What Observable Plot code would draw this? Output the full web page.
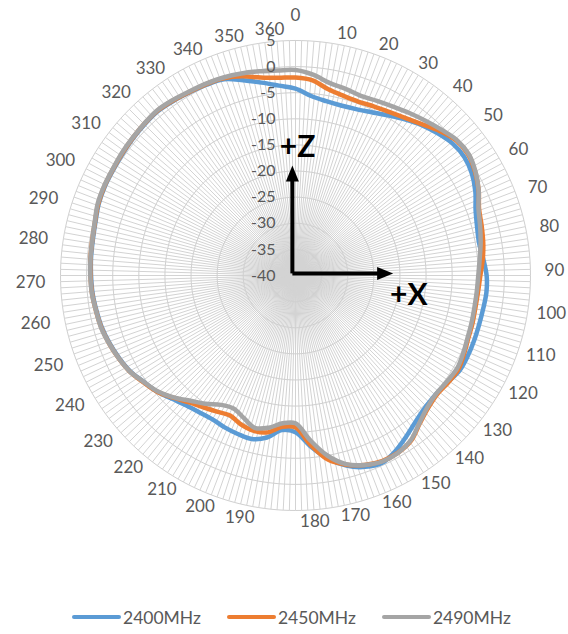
<!DOCTYPE html>
<html>
<head>
<meta charset="utf-8">
<script src="https://cdn.jsdelivr.net/npm/d3@7"></script>
<script src="https://cdn.jsdelivr.net/npm/@observablehq/plot@0.6"></script>
<style>
  html, body { margin: 0; padding: 0; background: #fff; }
  body { width: 568px; font-family: Lato, "Open Sans", sans-serif; }
  #chart svg { display: block; }
  #legend { height: 34px; display: flex; align-items: center; padding-left: 72px; box-sizing: border-box; }
  #legend .item { display: flex; align-items: center; margin-right: 26px; }
  #legend .swatch { width: 49px; height: 4px; border-radius: 2px; margin-right: 2px; }
  #legend .label { font-size: 17.5px; color: #595959; }
</style>
</head>
<body>
<div id="chart"></div>
<div id="legend"></div>
<script>
// Azimuth of each measurement (degrees), one sample every 5°
const azimuth = d3.range(0, 360, 5);

// Radiated gain (dB) per azimuth for each frequency
const gain2400 = [
  -4.2, -5.5, -6.1, -6.3, -6.1, -5.5, -4.6, -3.5, -2.4, -1.5, -0.7, -0.5,
  -1.0, -2.0, -3.3, -4.0, -4.3, -3.9, -3.4, -3.3, -3.5, -3.6, -3.6, -3.6,
  -3.7, -4.4, -4.8, -4.6, -3.9, -2.7, -1.4, -0.5, -1.0, -2.3, -4.4, -7.2,
  -10.0, -10.3, -8.5, -7.6, -7.7, -7.9, -8.2, -8.0, -7.5, -6.6, -5.4, -4.5,
  -3.4, -2.7, -2.1, -1.6, -1.3, -1.0, -0.85, -0.7, -0.6, -0.35, 0.1, 0.3,
  0.35, 0.5, 0.7, 0.9, 1.05, 0.8, 0.5, 0.3, 0.0, -1.3, -2.5, -3.5
];
const gain2450 = [
  -2.1, -2.5, -3.8, -4.4, -4.6, -4.3, -3.9, -3.2, -2.2, -0.9, 0.2, 0.4,
  -0.3, -1.3, -2.6, -3.1, -3.5, -4.0, -4.6, -4.9, -5.0, -4.9, -4.8, -4.4,
  -4.0, -4.3, -4.6, -4.1, -3.0, -1.4, -0.8, -0.8, -1.4, -2.5, -4.2, -7.5,
  -10.9, -10.9, -9.5, -9.2, -9.6, -10.4, -9.9, -9.2, -8.3, -6.9, -5.4, -4.4,
  -3.3, -2.6, -2.0, -1.5, -1.2, -0.9, -0.75, -0.6, -0.5, -0.25, 0.2, 0.4,
  0.45, 0.6, 0.8, 1.0, 1.15, 0.9, 0.6, 0.45, 0.2, -0.5, -1.5, -2.0
];
const gain2490 = [
  -0.65, -1.4, -2.55, -3.0, -3.4, -3.1, -2.65, -2.0, -1.3, -0.5, 0.35, 0.5,
  -0.2, -1.3, -2.7, -3.4, -4.0, -4.6, -5.0, -5.15, -5.2, -5.1, -4.95, -4.6,
  -4.3, -4.6, -4.8, -4.3, -3.1, -1.5, -0.75, -0.7, -1.4, -2.6, -5.0, -8.4,
  -11.7, -11.6, -10.4, -9.8, -11.0, -11.9, -11.4, -10.0, -8.7, -7.0, -5.5, -4.5,
  -3.3, -2.6, -2.0, -1.45, -1.2, -0.85, -0.7, -0.6, -0.5, -0.2, 0.3, 0.45,
  0.5, 0.7, 0.85, 1.05, 1.25, 1.0, 0.7, 0.55, 0.35, 0.05, -0.3, -0.6
];

const seriesNames = ["2400MHz", "2450MHz", "2490MHz"];
const seriesColors = ["#5b9bd5", "#ed7d31", "#a5a5a5"];

// Radial (gain) axis ticks and angular category labels
const ringTicks = [5, 0, -5, -10, -15, -20, -25, -30, -35, -40];
const angleTicks = d3.range(0, 361, 10);
// where each angular label sits around the rim (degrees clockwise from top)
const angleTickAt = [
  0, 12, 22, 32, 41.5, 51, 60.5, 70, 79, 89, 98.5, 108, 117.5, 127.5, 136.5,
  146, 156, 166, 175.5, 193, 202.5, 212, 221, 230, 240, 250, 259.5, 268.5,
  278, 287, 296, 306, 315.5, 325, 334.5, 344.5, 354
];

// ---- geometry: gain in dB mapped to distance from the centre (-40 dB at the centre)
const floorDb = -40, ceilDb = 5;
const rOf = v => v - floorDb;
const outer = rOf(ceilDb);
const polar = (deg, r) => ({
  x: r * Math.sin(deg * Math.PI / 180),
  y: r * Math.cos(deg * Math.PI / 180)
});

const W = 568, H = 600, cx = 295, cy = 275;
const pxPerDb = 235 / outer;

// grid
const gridStep = 1.5;
const spokes = d3.range(0, 360, gridStep).map(a => ({a, ...polar(a, outer)}));
const rings = ringTicks.filter(v => v > floorDb).flatMap(v =>
  d3.range(0, 360, gridStep).map(a => ({v, ...polar(a, rOf(v))}))
);

// measured curves
const gains = [gain2400, gain2450, gain2490];
const rows = gains.flatMap((g, s) =>
  azimuth.map((a, i) => ({series: seriesNames[s], angle: a, gain: g[i], ...polar(a, rOf(g[i]))}))
);

// angular labels: outside the rim, pushed outward by half their box
const angleLabels = angleTicks.map((t, i) => {
  const deg = angleTickAt[i];
  const s = Math.sin(deg * Math.PI / 180);
  let rpx = 247 + (s < 0 ? 18 : 12) * s * s;
  if (i === 0) rpx += 13; // the 0 label sits above its 360 neighbour
  return {text: String(t), ...polar(deg, rpx / pxPerDb)};
});

// axis orientation arrows (+Z up, +X right)
const origin = {x: -0.6, y: 0.4};
const headLen = 16 / pxPerDb, headHalf = 6.5 / pxPerDb;
const arrows = [
  {id: "Z", ux: 0, uy: 1, len: 20.66, label: "+Z", lx: 0.4, ly: 24.5},
  {id: "X", ux: 1, uy: 0, len: 19.3, label: "+X", lx: 21.7, ly: -3.85}
];
const shafts = arrows.map(d => ({
  x1: origin.x, y1: origin.y,
  x2: origin.x + d.ux * (d.len - headLen * 0.8), y2: origin.y + d.uy * (d.len - headLen * 0.8)
}));
const heads = arrows.flatMap(d => {
  const tx = origin.x + d.ux * d.len, ty = origin.y + d.uy * d.len;
  const bx = tx - d.ux * headLen, by = ty - d.uy * headLen;
  const px = -d.uy, py = d.ux;
  return [
    {id: d.id, x: tx, y: ty},
    {id: d.id, x: bx + px * headHalf, y: by + py * headHalf},
    {id: d.id, x: bx - px * headHalf, y: by - py * headHalf}
  ];
});

const chart = Plot.plot({
  width: W,
  height: H,
  margin: 0,
  style: {fontFamily: "Lato, 'Open Sans', sans-serif", background: "#fff"},
  x: {domain: [-cx / pxPerDb, (W - cx) / pxPerDb], range: [0, W], axis: null},
  y: {domain: [-(H - cy) / pxPerDb, cy / pxPerDb], range: [H, 0], axis: null},
  color: {domain: seriesNames, range: seriesColors},
  marks: [
    Plot.link(spokes, {x1: 0, y1: 0, x2: "x", y2: "y", stroke: "#d3d3d3", strokeWidth: 1}),
    Plot.line(rings, {x: "x", y: "y", z: "v", curve: "linear-closed", stroke: "#d0d0d0", strokeWidth: 1}),
    Plot.line(rows, {
      x: "x", y: "y", z: "series", stroke: "series",
      strokeWidth: 4.5, curve: "catmull-rom-closed", strokeLinejoin: "round"
    }),
    Plot.text(ringTicks, {
      x: -20 / pxPerDb, y: d => rOf(d), text: d => String(d),
      textAnchor: "end", lineAnchor: "middle", fontSize: 16, fill: "#595959"
    }),
    Plot.text(angleLabels, {
      x: "x", y: "y", text: "text", textAnchor: "middle", lineAnchor: "middle",
      fontSize: 17, fill: "#595959"
    }),
    Plot.link(shafts, {x1: "x1", y1: "y1", x2: "x2", y2: "y2", stroke: "#000", strokeWidth: 4}),
    Plot.line(heads, {x: "x", y: "y", z: "id", curve: "linear-closed", fill: "#000", stroke: "none"}),
    Plot.text(arrows, {
      x: "lx", y: "ly", text: "label", fontSize: 30, fontWeight: "bold",
      fill: "#000", textAnchor: "middle", lineAnchor: "middle"
    })
  ]
});
document.getElementById("chart").appendChild(chart);

// legend below the plot
const legend = d3.select("#legend");
seriesNames.forEach((name, i) => {
  const item = legend.append("div").attr("class", "item");
  item.append("span").attr("class", "swatch").style("background", seriesColors[i]);
  item.append("span").attr("class", "label").text(name);
});
</script>
</body>
</html>
